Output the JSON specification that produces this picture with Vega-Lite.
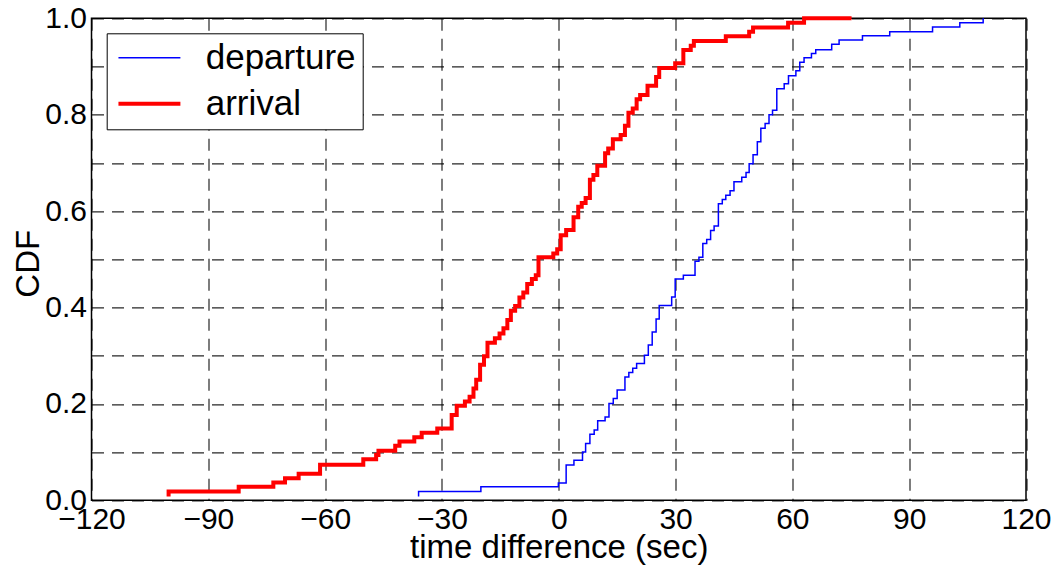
{
  "$schema": "https://vega.github.io/schema/vega-lite/v6.json",
  "width": 934.5,
  "height": 482,
  "autosize": {"type": "none"},
  "padding": {"left": 91.5, "top": 18.3, "right": 33, "bottom": 66.7},
  "background": "white",
  "config": {
    "font": "Liberation Sans",
    "view": {"stroke": "#000", "strokeWidth": 1.5}
  },
  "data": {
    "values": [
      {"series": "departure", "n": 0, "t": -36.0, "cdf": 0.008},
      {"series": "departure", "n": 1, "t": -36.0, "cdf": 0.018},
      {"series": "departure", "n": 2, "t": -20.0, "cdf": 0.028},
      {"series": "departure", "n": 3, "t": -0.1, "cdf": 0.036},
      {"series": "departure", "n": 4, "t": 1.9, "cdf": 0.073},
      {"series": "departure", "n": 5, "t": 3.9, "cdf": 0.083},
      {"series": "departure", "n": 6, "t": 6.1, "cdf": 0.100},
      {"series": "departure", "n": 7, "t": 6.9, "cdf": 0.118},
      {"series": "departure", "n": 8, "t": 8.0, "cdf": 0.137},
      {"series": "departure", "n": 9, "t": 9.1, "cdf": 0.146},
      {"series": "departure", "n": 10, "t": 10.0, "cdf": 0.165},
      {"series": "departure", "n": 11, "t": 11.9, "cdf": 0.173},
      {"series": "departure", "n": 12, "t": 12.9, "cdf": 0.201},
      {"series": "departure", "n": 13, "t": 14.0, "cdf": 0.211},
      {"series": "departure", "n": 14, "t": 15.0, "cdf": 0.229},
      {"series": "departure", "n": 15, "t": 17.0, "cdf": 0.256},
      {"series": "departure", "n": 16, "t": 18.0, "cdf": 0.265},
      {"series": "departure", "n": 17, "t": 19.0, "cdf": 0.274},
      {"series": "departure", "n": 18, "t": 20.0, "cdf": 0.284},
      {"series": "departure", "n": 19, "t": 22.0, "cdf": 0.301},
      {"series": "departure", "n": 20, "t": 23.0, "cdf": 0.322},
      {"series": "departure", "n": 21, "t": 24.0, "cdf": 0.349},
      {"series": "departure", "n": 22, "t": 25.0, "cdf": 0.376},
      {"series": "departure", "n": 23, "t": 25.8, "cdf": 0.404},
      {"series": "departure", "n": 24, "t": 29.0, "cdf": 0.422},
      {"series": "departure", "n": 25, "t": 29.9, "cdf": 0.459},
      {"series": "departure", "n": 26, "t": 32.0, "cdf": 0.467},
      {"series": "departure", "n": 27, "t": 35.0, "cdf": 0.496},
      {"series": "departure", "n": 28, "t": 36.0, "cdf": 0.504},
      {"series": "departure", "n": 29, "t": 37.0, "cdf": 0.533},
      {"series": "departure", "n": 30, "t": 38.0, "cdf": 0.541},
      {"series": "departure", "n": 31, "t": 39.0, "cdf": 0.560},
      {"series": "departure", "n": 32, "t": 39.9, "cdf": 0.569},
      {"series": "departure", "n": 33, "t": 41.0, "cdf": 0.615},
      {"series": "departure", "n": 34, "t": 42.0, "cdf": 0.624},
      {"series": "departure", "n": 35, "t": 42.9, "cdf": 0.633},
      {"series": "departure", "n": 36, "t": 44.0, "cdf": 0.642},
      {"series": "departure", "n": 37, "t": 45.0, "cdf": 0.661},
      {"series": "departure", "n": 38, "t": 47.0, "cdf": 0.670},
      {"series": "departure", "n": 39, "t": 48.1, "cdf": 0.680},
      {"series": "departure", "n": 40, "t": 48.9, "cdf": 0.698},
      {"series": "departure", "n": 41, "t": 49.9, "cdf": 0.717},
      {"series": "departure", "n": 42, "t": 51.0, "cdf": 0.744},
      {"series": "departure", "n": 43, "t": 51.9, "cdf": 0.772},
      {"series": "departure", "n": 44, "t": 53.0, "cdf": 0.782},
      {"series": "departure", "n": 45, "t": 54.0, "cdf": 0.800},
      {"series": "departure", "n": 46, "t": 54.9, "cdf": 0.809},
      {"series": "departure", "n": 47, "t": 56.0, "cdf": 0.854},
      {"series": "departure", "n": 48, "t": 57.9, "cdf": 0.864},
      {"series": "departure", "n": 49, "t": 59.0, "cdf": 0.881},
      {"series": "departure", "n": 50, "t": 60.9, "cdf": 0.891},
      {"series": "departure", "n": 51, "t": 61.9, "cdf": 0.909},
      {"series": "departure", "n": 52, "t": 63.0, "cdf": 0.918},
      {"series": "departure", "n": 53, "t": 64.9, "cdf": 0.927},
      {"series": "departure", "n": 54, "t": 66.0, "cdf": 0.935},
      {"series": "departure", "n": 55, "t": 70.1, "cdf": 0.946},
      {"series": "departure", "n": 56, "t": 72.0, "cdf": 0.955},
      {"series": "departure", "n": 57, "t": 78.0, "cdf": 0.964},
      {"series": "departure", "n": 58, "t": 85.0, "cdf": 0.972},
      {"series": "departure", "n": 59, "t": 96.0, "cdf": 0.982},
      {"series": "departure", "n": 60, "t": 103.0, "cdf": 0.991},
      {"series": "departure", "n": 61, "t": 109.0, "cdf": 1.0},

      {"series": "arrival", "n": 0, "t": -100.2, "cdf": 0.008},
      {"series": "arrival", "n": 1, "t": -100.2, "cdf": 0.018},
      {"series": "arrival", "n": 2, "t": -82.2, "cdf": 0.028},
      {"series": "arrival", "n": 3, "t": -73.3, "cdf": 0.037},
      {"series": "arrival", "n": 4, "t": -70.3, "cdf": 0.046},
      {"series": "arrival", "n": 5, "t": -66.8, "cdf": 0.055},
      {"series": "arrival", "n": 6, "t": -61.3, "cdf": 0.074},
      {"series": "arrival", "n": 7, "t": -50.2, "cdf": 0.085},
      {"series": "arrival", "n": 8, "t": -46.9, "cdf": 0.094},
      {"series": "arrival", "n": 9, "t": -46.3, "cdf": 0.103},
      {"series": "arrival", "n": 10, "t": -42.0, "cdf": 0.113},
      {"series": "arrival", "n": 11, "t": -40.9, "cdf": 0.122},
      {"series": "arrival", "n": 12, "t": -37.1, "cdf": 0.131},
      {"series": "arrival", "n": 13, "t": -35.2, "cdf": 0.140},
      {"series": "arrival", "n": 14, "t": -31.2, "cdf": 0.149},
      {"series": "arrival", "n": 15, "t": -27.5, "cdf": 0.177},
      {"series": "arrival", "n": 16, "t": -26.2, "cdf": 0.196},
      {"series": "arrival", "n": 17, "t": -24.1, "cdf": 0.205},
      {"series": "arrival", "n": 18, "t": -22.9, "cdf": 0.215},
      {"series": "arrival", "n": 19, "t": -21.9, "cdf": 0.232},
      {"series": "arrival", "n": 20, "t": -21.2, "cdf": 0.250},
      {"series": "arrival", "n": 21, "t": -20.2, "cdf": 0.281},
      {"series": "arrival", "n": 22, "t": -19.2, "cdf": 0.299},
      {"series": "arrival", "n": 23, "t": -18.3, "cdf": 0.327},
      {"series": "arrival", "n": 24, "t": -16.4, "cdf": 0.336},
      {"series": "arrival", "n": 25, "t": -15.2, "cdf": 0.346},
      {"series": "arrival", "n": 26, "t": -14.2, "cdf": 0.357},
      {"series": "arrival", "n": 27, "t": -13.2, "cdf": 0.374},
      {"series": "arrival", "n": 28, "t": -12.3, "cdf": 0.393},
      {"series": "arrival", "n": 29, "t": -11.2, "cdf": 0.403},
      {"series": "arrival", "n": 30, "t": -10.1, "cdf": 0.421},
      {"series": "arrival", "n": 31, "t": -9.1, "cdf": 0.431},
      {"series": "arrival", "n": 32, "t": -8.1, "cdf": 0.449},
      {"series": "arrival", "n": 33, "t": -6.9, "cdf": 0.459},
      {"series": "arrival", "n": 34, "t": -5.9, "cdf": 0.467},
      {"series": "arrival", "n": 35, "t": -5.2, "cdf": 0.504},
      {"series": "arrival", "n": 36, "t": -1.4, "cdf": 0.512},
      {"series": "arrival", "n": 37, "t": -0.4, "cdf": 0.521},
      {"series": "arrival", "n": 38, "t": 0.5, "cdf": 0.550},
      {"series": "arrival", "n": 39, "t": 1.9, "cdf": 0.561},
      {"series": "arrival", "n": 40, "t": 3.8, "cdf": 0.587},
      {"series": "arrival", "n": 41, "t": 5.0, "cdf": 0.609},
      {"series": "arrival", "n": 42, "t": 5.9, "cdf": 0.617},
      {"series": "arrival", "n": 43, "t": 6.9, "cdf": 0.627},
      {"series": "arrival", "n": 44, "t": 8.0, "cdf": 0.665},
      {"series": "arrival", "n": 45, "t": 8.9, "cdf": 0.675},
      {"series": "arrival", "n": 46, "t": 9.9, "cdf": 0.694},
      {"series": "arrival", "n": 47, "t": 11.9, "cdf": 0.720},
      {"series": "arrival", "n": 48, "t": 12.7, "cdf": 0.730},
      {"series": "arrival", "n": 49, "t": 13.9, "cdf": 0.749},
      {"series": "arrival", "n": 50, "t": 15.9, "cdf": 0.758},
      {"series": "arrival", "n": 51, "t": 17.0, "cdf": 0.777},
      {"series": "arrival", "n": 52, "t": 17.9, "cdf": 0.804},
      {"series": "arrival", "n": 53, "t": 19.0, "cdf": 0.813},
      {"series": "arrival", "n": 54, "t": 20.0, "cdf": 0.832},
      {"series": "arrival", "n": 55, "t": 20.9, "cdf": 0.841},
      {"series": "arrival", "n": 56, "t": 22.8, "cdf": 0.860},
      {"series": "arrival", "n": 57, "t": 25.0, "cdf": 0.878},
      {"series": "arrival", "n": 58, "t": 25.8, "cdf": 0.897},
      {"series": "arrival", "n": 59, "t": 29.9, "cdf": 0.907},
      {"series": "arrival", "n": 60, "t": 32.0, "cdf": 0.934},
      {"series": "arrival", "n": 61, "t": 33.9, "cdf": 0.943},
      {"series": "arrival", "n": 62, "t": 34.7, "cdf": 0.953},
      {"series": "arrival", "n": 63, "t": 42.9, "cdf": 0.963},
      {"series": "arrival", "n": 64, "t": 48.9, "cdf": 0.972},
      {"series": "arrival", "n": 65, "t": 49.9, "cdf": 0.981},
      {"series": "arrival", "n": 66, "t": 58.9, "cdf": 0.991},
      {"series": "arrival", "n": 67, "t": 63.0, "cdf": 1.0},
      {"series": "arrival", "n": 68, "t": 75.2, "cdf": 1.0}
    ]
  },
  "mark": {"type": "line", "interpolate": "step-after", "strokeCap": "butt", "strokeJoin": "miter"},
  "encoding": {
    "x": {
      "field": "t",
      "type": "quantitative",
      "scale": {"domain": [-120, 120], "nice": false, "zero": false},
      "axis": {
        "values": [-120, -90, -60, -30, 0, 30, 60, 90, 120],
        "domain": false,
        "ticks": false,
        "grid": true,
        "gridColor": "#000",
        "gridOpacity": 0.85,
        "gridWidth": 1.2,
        "gridDash": [12, 8],
        "labelFontSize": 30,
        "labelColor": "#000",
        "labelPadding": 4,
        "labelFlush": false,
        "labelOverlap": false,
        "labelBound": false,
        "title": "time difference (sec)",
        "titleFontSize": 33,
        "titleFontWeight": "normal",
        "titleColor": "#000",
        "titleX": 467.25,
        "titleY": 57,
        "titleAlign": "center",
        "titleBaseline": "alphabetic"
      }
    },
    "y": {
      "field": "cdf",
      "type": "quantitative",
      "scale": {"domain": [0, 1], "nice": false},
      "axis": {
        "values": [0, 0.1, 0.2, 0.3, 0.4, 0.5, 0.6, 0.7, 0.8, 0.9, 1.0],
        "labelExpr": "round(datum.value * 10) % 2 == 0 ? format(datum.value, '.1f') : ''",
        "domain": false,
        "ticks": false,
        "grid": true,
        "gridColor": "#000",
        "gridOpacity": 0.85,
        "gridWidth": 1.2,
        "gridDash": [12, 8],
        "labelFontSize": 30,
        "labelColor": "#000",
        "labelPadding": 5,
        "labelFlush": false,
        "labelOverlap": false,
        "labelBound": false,
        "title": "CDF",
        "titleFontSize": 33,
        "titleFontWeight": "normal",
        "titleColor": "#000",
        "titleAngle": -90,
        "titleX": -63.5,
        "titleY": 245,
        "titleAlign": "center",
        "titleBaseline": "middle"
      }
    },
    "order": {"field": "n", "type": "quantitative"},
    "color": {
      "field": "series",
      "type": "nominal",
      "scale": {"domain": ["departure", "arrival"], "range": ["#0000ff", "#ff0000"]},
      "legend": {
        "title": null,
        "orient": "none",
        "legendX": 15.2,
        "legendY": 15,
        "symbolType": "M-0.85,0H3.28",
        "symbolSize": 900,
        "labelFontSize": 35,
        "labelColor": "#000",
        "labelOffset": 57,
        "rowPadding": 10,
        "padding": 7,
        "strokeColor": "#000",
        "fillColor": "#fff"
      }
    },
    "strokeWidth": {
      "field": "series",
      "type": "nominal",
      "scale": {"domain": ["departure", "arrival"], "range": [1.5, 4]},
      "legend": {
        "title": null,
        "orient": "none",
        "legendX": 15.2,
        "legendY": 15,
        "symbolType": "M-0.85,0H3.28",
        "symbolSize": 900,
        "labelFontSize": 35,
        "labelColor": "#000",
        "labelOffset": 57,
        "rowPadding": 10,
        "padding": 7,
        "strokeColor": "#000",
        "fillColor": "#fff"
      }
    }
  }
}
